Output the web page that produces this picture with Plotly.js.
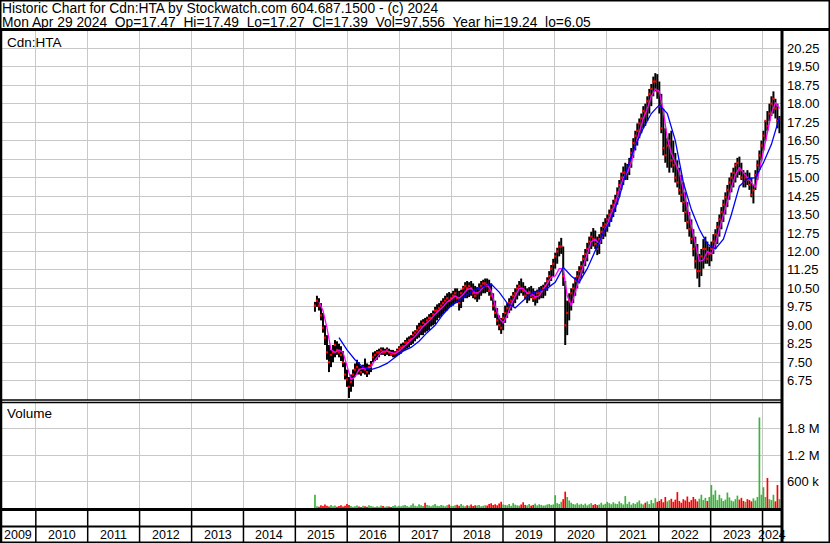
<!DOCTYPE html>
<html><head><meta charset="utf-8">
<script src="https://cdn.plot.ly/plotly-3.0.1.min.js"></script>
<style>html,body{margin:0;padding:0;background:#fff;}#chart{width:830px;height:543px;}</style>
</head><body><div id="chart"></div>
<script>
// ---- data (one bar per ~2 weeks) ----
const firstBar = '2015-05-19';
const lastBar = '2024-04-29';
const hi = [9.95,10.2,10.1,9.9,9.5,9.0,8.6,8.2,8.0,8.2,
8.4,8.35,8.25,8.15,7.95,7.5,7.2,6.9,7.0,7.2,
7.45,7.6,7.5,7.35,7.4,7.65,7.45,7.4,7.55,
7.9,7.95,8.0,8.05,8.1,8.1,8.05,8.1,8.05,8.0,8.0,7.95,8.05,8.15,
8.25,8.3,8.4,8.5,8.55,8.6,8.75,8.8,
9.0,9.1,9.2,9.25,9.3,9.35,9.45,9.5,9.6,9.75,9.85,9.9,
10.0,10.1,10.2,10.3,10.35,10.3,10.4,10.5,
10.5,10.4,10.45,10.6,10.75,10.8,10.75,10.8,10.7,10.6,10.55,10.7,10.8,10.85,10.9,10.9,10.85,
10.7,10.3,10.0,9.7,9.4,9.3,9.5,9.8,
9.9,10.1,10.2,10.35,10.5,10.65,10.8,10.9,
10.75,10.6,10.5,10.55,10.6,10.5,10.4,10.45,10.55,
10.6,10.65,10.75,10.95,11.2,11.45,11.7,11.95,12.15,12.4,12.55,
12.2,10.8,10.0,10.3,10.5,10.7,
10.95,11.2,11.4,11.6,11.85,12.1,12.35,
12.6,12.8,12.95,12.85,12.6,12.7,13.0,13.2,13.35,
13.5,13.7,13.9,14.1,14.3,14.6,14.9,15.2,15.45,15.6,15.55,15.8,16.2,16.6,16.9,17.2,17.4,17.6,17.9,18.0,18.3,18.6,18.8,19.1,19.24,19.2,18.9,
18.4,17.8,17.0,16.6,16.8,16.9,16.5,16.0,15.7,15.4,
15.1,14.8,14.4,14.0,13.6,13.3,12.9,12.6,12.3,11.9,12.1,12.5,12.6,12.4,12.2,12.4,
12.7,12.9,13.2,13.5,13.8,14.1,14.4,14.7,15.0,15.2,15.4,15.6,
15.8,15.85,15.6,15.3,15.2,15.3,15.2,15.0,14.7,
15.3,15.7,16.1,16.5,16.9,17.3,17.7,18.0,18.3,18.5,18.2,18.0,17.5];
const lo = [9.55,9.75,9.6,9.2,8.7,8.2,7.6,7.1,7.3,7.5,
7.7,7.8,7.7,7.55,7.3,6.8,6.5,6.05,6.3,6.5,
6.9,7.0,7.0,6.95,7.05,7.0,6.9,7.0,7.1,
7.5,7.55,7.6,7.7,7.8,7.8,7.75,7.8,7.75,7.75,7.7,7.7,7.75,7.8,
7.85,7.95,8.0,8.05,8.1,8.2,8.25,8.35,
8.45,8.5,8.6,8.6,8.7,8.75,8.8,8.95,9.0,9.05,9.2,9.3,
9.35,9.45,9.55,9.6,9.7,9.75,9.8,9.9,
9.9,9.6,9.7,9.95,10.1,10.1,10.15,10.2,10.1,10.05,9.95,10.05,10.2,10.3,10.3,10.35,10.2,
10.0,9.6,9.3,9.0,8.8,8.65,8.8,9.1,
9.3,9.5,9.6,9.75,9.9,10.05,10.2,10.3,
10.2,10.05,9.9,10.0,10.1,9.95,9.8,9.9,10.05,
10.1,10.1,10.2,10.4,10.6,10.8,11.0,11.3,11.5,11.8,11.9,
10.6,8.2,8.6,9.2,9.6,9.9,
10.2,10.5,10.7,10.9,11.1,11.4,11.6,
11.9,12.1,12.2,12.1,11.85,11.9,12.3,12.5,12.6,
12.8,13.0,13.2,13.4,13.6,13.9,14.2,14.5,14.7,14.9,14.9,15.1,15.4,15.8,16.1,16.3,16.6,16.8,17.0,17.1,17.3,17.6,17.9,18.3,18.5,18.2,17.6,
16.8,15.9,15.6,15.4,15.2,15.4,15.2,14.8,14.6,14.3,
14.0,13.6,13.2,12.9,12.6,12.3,11.8,11.3,10.9,10.55,11.0,11.3,11.5,11.5,11.4,11.6,
11.9,12.1,12.3,12.6,12.9,13.2,13.5,13.8,14.1,14.4,14.6,14.8,
15.0,15.1,14.9,14.6,14.6,14.7,14.5,14.2,13.95,
14.5,14.9,15.3,15.7,16.1,16.5,16.9,17.3,17.5,17.6,17.4,17.0,16.8];
const close = [9.8,10.0,9.8,9.4,8.9,
8.5,7.9,7.5,7.8,7.9,
8.2,8.0,7.9,7.8,7.5,
7.0,6.8,6.5,6.7,7.0,
7.2,7.3,7.2,7.1,7.3,7.2,7.1,7.3,7.4,
7.7,7.8,7.9,7.9,8.0,7.9,7.9,8.0,7.9,7.8,7.85,7.85,7.95,8.05,
8.1,8.15,8.3,8.3,8.4,8.45,8.6,8.7,
8.8,8.9,8.95,9.1,9.05,9.2,9.3,9.3,9.45,9.6,9.6,9.7,
9.8,9.9,10.0,10.1,10.0,10.1,10.2,10.3,
10.1,9.9,10.3,10.5,10.6,10.5,10.6,10.5,10.3,10.2,10.3,10.5,10.6,10.7,10.7,10.6,10.4,
10.2,9.8,9.5,9.2,9.0,8.9,9.3,9.5,
9.7,9.9,10.0,10.2,10.3,10.5,10.6,10.5,
10.4,10.2,10.3,10.35,10.2,10.1,10.1,10.3,10.3,
10.4,10.5,10.6,10.8,11.0,11.3,11.5,11.8,12.0,12.2,12.2,
11.0,9.0,9.5,10.0,10.3,10.5,
10.8,11.0,11.2,11.4,11.7,11.9,12.1,
12.4,12.6,12.5,12.3,12.1,12.5,12.8,13.0,13.1,
13.3,13.5,13.7,13.9,14.1,14.4,14.7,15.0,15.2,15.2,15.3,15.6,16.0,16.4,16.7,16.9,17.2,17.4,17.7,17.6,18.1,18.4,18.6,18.9,18.9,18.5,17.9,
17.0,16.2,15.9,16.3,16.5,15.7,15.5,15.0,14.8,14.5,
14.3,14.0,13.6,13.2,12.9,12.5,12.1,11.6,11.2,11.2,11.8,12.1,12.1,11.7,11.9,12.1,
12.4,12.7,13.0,13.3,13.6,13.9,14.2,14.5,14.8,15.0,15.2,15.5,
15.6,15.3,15.0,14.8,15.0,14.9,14.7,14.3,14.5,
15.1,15.5,15.9,16.3,16.7,17.3,17.1,17.6,18.0,18.2,17.8,17.3,17.39];
const volK = [300,
40,30,60,45,80,50,35,70,40,55,30,45,60,35,50,90,
70,45,30,40,55,35,25,50,40,30,60,45,35,25,40,30,55,45,30,40,35,25,45,60,35,50,
40,55,70,45,30,60,100,50,40,85,60,45,120,70,55,40,60,90,50,45,70,55,40,60,80,50,
45,60,75,50,90,55,40,65,50,80,45,60,55,70,40,50,65,55,90,110,70,85,60,100,140,80,
70,60,90,50,110,75,60,55,80,130,70,60,90,55,70,100,60,85,70,55,60,80,90,70,80,290,
110,90,140,200,370,250,170,120,90,80,110,75,95,70,100,60,85,110,70,90,65,80,120,75,95,140,
110,85,130,100,90,150,110,80,270,95,140,75,110,90,130,170,100,80,120,150,90,180,110,220,140,160,
200,130,250,150,180,210,140,190,360,160,120,200,170,260,140,180,250,200,150,210,300,180,230,160,250,520,
300,400,180,300,220,160,190,350,240,170,150,200,280,190,230,160,140,200,180,150,220,170,250,2050,300,470,
250,680,200,180,300,150,520,200];
// short moving average (magenta), read every 2nd bar starting at bar 2
const pinkMA = [9.95,9.6,8.9,8.0,7.9,8.0,7.9,7.3,6.8,6.9,
7.2,7.25,7.25,7.3,7.6,7.8,7.95,7.95,7.9,7.85,
7.95,8.1,8.25,8.4,8.55,8.75,8.95,9.1,9.25,9.45,
9.6,9.75,9.95,10.05,10.2,10.1,10.25,10.45,10.5,10.3,
10.35,10.55,10.65,10.4,9.8,9.3,9.1,9.4,9.85,10.2,
10.5,10.5,10.3,10.3,10.15,10.2,10.45,10.7,10.95,11.0,
11.3,11.3,10.2,9.8,10.4,10.9,11.4,11.9,12.4,12.5,
12.3,12.75,13.1,13.55,13.95,14.5,15.0,15.2,15.6,16.3,
16.9,17.4,17.8,18.3,18.6,18.5,17.7,16.6,16.0,15.6,
15.2,14.5,13.8,13.1,12.3,11.6,11.65,12.0,11.9,12.3,
12.9,13.5,14.0,14.6,15.1,15.4,15.2,15.0,14.8,14.6,
15.3,16.1,16.9,17.6,18.05,17.8];
// long moving average (blue), read every 4th bar starting at bar 12
const blueMA = [8.5,8.0,7.6,7.3,7.2,7.3,7.45,7.7,7.95,8.1,
8.35,8.7,9.0,9.45,9.8,10.0,10.25,10.45,10.57,10.68,
10.35,9.9,9.7,10.0,10.3,10.4,10.5,10.75,11.35,11.0,
10.75,11.3,12.0,12.75,13.3,14.2,15.4,16.3,17.0,17.6,
17.95,17.6,16.5,14.8,13.7,12.9,12.3,12.1,12.5,13.5,
14.65,14.95,15.0,15.6,16.35,17.45];
const priceTicks = [20.25,19.5,18.75,18,17.25,16.5,15.75,15,14.25,13.5,12.75,12,11.25,10.5,9.75,9,8.25,7.5,6.75];
const volTicks = [600,1200,1800];
const volTickText = ['600 k','1.2 M','1.8 M'];
const years = [2009,2010,2011,2012,2013,2014,2015,2016,2017,2018,2019,2020,2021,2022,2023,2024];
const header1 = 'Historic Chart for Cdn:HTA by Stockwatch.com 604.687.1500 - (c) 2024';
const header2 = 'Mon Apr 29 2024\u00a0 Op=17.47\u00a0 Hi=17.49\u00a0 Lo=17.27\u00a0 Cl=17.39\u00a0 Vol=97,556\u00a0 Year hi=19.24\u00a0 lo=6.05';
const symbolLabel = 'Cdn:HTA';
const volumeLabel = 'Volume';

// ---- build ----
const rangeStart = '2009-04-24', rangeEnd = '2024-05-17';
const W = 782, H = 543;
const n = hi.length;
const t0 = Date.parse(firstBar + 'T00:00:00Z'), t1 = Date.parse(lastBar + 'T00:00:00Z');
const fmt = ms => new Date(ms).toISOString().replace('T',' ').slice(0,19);
const dates = [];
for (let i = 0; i < n; i++) dates.push(fmt(t0 + (t1 - t0) * i / (n - 1)));

const barX = [], barY = [];
for (let i = 0; i < n; i++) { barX.push(dates[i], dates[i], null); barY.push(lo[i], hi[i], null); }
const pinkX = pinkMA.map((v, k) => dates[2 + 2 * k]);
const blueX = blueMA.map((v, k) => dates[12 + 4 * k]);
// volume drawn as vertical strokes from 0 to the value, split by up/down close
const upX = [], upY = [], dnX = [], dnY = [];
volK.forEach((v, i) => {
  const up = (i === 0 || close[i] >= close[i - 1]);
  (up ? upX : dnX).push(dates[i], dates[i], null);
  (up ? upY : dnY).push(0, v, null);
});

const rs = Date.parse(rangeStart + 'T00:00:00Z'), re = Date.parse(rangeEnd + 'T00:00:00Z');
const fracOf = ms => (ms - rs) / (re - rs);
const px = p => p / W;
const py = p => 1 - p / H;

const traces = [
  {type:'scatter', mode:'lines', x:barX, y:barY, xaxis:'x', yaxis:'y',
   line:{color:'#000', width:2}, connectgaps:false, hoverinfo:'skip'},
  {type:'scatter', mode:'markers', x:dates, y:close, xaxis:'x', yaxis:'y',
   marker:{symbol:'square', size:2.2, color:'#ff0000'}, hoverinfo:'skip'},
  {type:'scatter', mode:'lines', x:pinkX, y:pinkMA, xaxis:'x', yaxis:'y',
   line:{color:'#ff00ff', width:1.3}, hoverinfo:'skip'},
  {type:'scatter', mode:'lines', x:blueX, y:blueMA, xaxis:'x', yaxis:'y',
   line:{color:'#0000ff', width:1.3}, hoverinfo:'skip'},
  {type:'scatter', mode:'lines', x:upX, y:upY, xaxis:'x2', yaxis:'y2',
   line:{color:'#3cb43c', width:1.7}, connectgaps:false, hoverinfo:'skip'},
  {type:'scatter', mode:'lines', x:dnX, y:dnY, xaxis:'x2', yaxis:'y2',
   line:{color:'#ff0000', width:1.7}, connectgaps:false, hoverinfo:'skip'}
];

const shapes = [];
const line = (x0, y0, x1, y1, w) => shapes.push({type:'line', xref:'paper', yref:'paper',
  x0:x0, y0:y0, x1:x1, y1:y1, line:{color:'#000', width:w}});
shapes.push({type:'rect', xref:'paper', yref:'paper', x0:px(0.75), x1:px(829.25), y0:py(542.25), y1:py(0.75),
  line:{color:'#000', width:1.5}});
line(px(0), py(29.5), px(830), py(29.5), 3);          // header rule
line(px(1), py(30), px(1), py(543), 2.5);             // left edge
line(px(782), py(30), px(782), py(543), 3);           // right edge of plot
line(px(0), py(400), px(782), py(400), 1.5);          // price/volume separator
line(px(0), py(402.5), px(782), py(402.5), 1.5);
line(px(0), py(509.5), px(782), py(509.5), 3);        // volume bottom
line(px(0), py(526.5), px(782), py(526.5), 2);        // strip bottom
for (const yr of years) {
  const f = fracOf(Date.UTC(yr, 0, 1));
  if (f > 0 && f < 1) line(f, py(510), f, py(543), 1.5);
}

const annotations = [];
const txt = (text, x, y, xanchor, size) => annotations.push({text:text, x:x, y:y, xref:'paper', yref:'paper',
  xanchor:xanchor, yanchor:'middle', showarrow:false, font:{size:size, color:'#000'}, borderpad:0});
txt(header1, px(1), py(8.5), 'left', 13.8);
txt(header2, px(1), py(22.5), 'left', 13.8);
txt(symbolLabel, px(6), py(42), 'left', 13.5);
txt(volumeLabel, px(6), py(413.5), 'left', 13.5);
for (const yr of years) {
  const a = Math.max(Date.UTC(yr, 0, 1), rs), b = Math.min(Date.UTC(yr + 1, 0, 1), re);
  txt(String(yr), fracOf((a + b) / 2), py(535), 'center', 12.5);
}

const axX = {type:'date', range:[rangeStart, rangeEnd], domain:[0,1], showticklabels:false, ticks:'',
  showgrid:true, gridcolor:'#c8c8c8', gridwidth:1, tick0:'2010-01-01', dtick:'M12',
  zeroline:false, showline:false, fixedrange:true};
const layout = {
  width:830, height:543, margin:{l:0, r:48, t:0, b:0, pad:0},
  paper_bgcolor:'#fff', plot_bgcolor:'#fff', showlegend:false,
  font:{family:'Liberation Sans, Arial, sans-serif', size:13, color:'#000'},
  xaxis:Object.assign({}, axX, {anchor:'y'}),
  xaxis2:Object.assign({}, axX, {anchor:'y2', matches:'x'}),
  yaxis:{domain:[py(400), py(31)], range:[5.966, 20.952], side:'right', anchor:'x',
    tickmode:'array', tickvals:priceTicks, ticktext:priceTicks.map(v => v.toFixed(2)),
    ticks:'', ticklen:0, ticklabelstandoff:4, showgrid:true, gridcolor:'#c8c8c8', gridwidth:1,
    zeroline:false, showline:false, fixedrange:true, tickfont:{size:13, color:'#000'}},
  yaxis2:{domain:[py(509), py(402)], range:[-22.6, 2400], side:'right', anchor:'x2',
    tickmode:'array', tickvals:volTicks, ticktext:volTickText,
    ticks:'', ticklen:0, ticklabelstandoff:4, showgrid:true, gridcolor:'#c8c8c8', gridwidth:1,
    zeroline:false, showline:false, fixedrange:true, tickfont:{size:13, color:'#000'}},
  shapes:shapes, annotations:annotations
};
Plotly.newPlot('chart', traces, layout, {staticPlot:true, displayModeBar:false});
</script></body></html>
